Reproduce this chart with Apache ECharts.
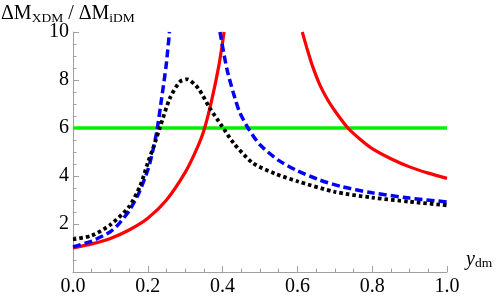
<!DOCTYPE html>
<html>
<head>
<meta charset="utf-8">
<script src="https://cdn.jsdelivr.net/npm/echarts@6/dist/echarts.min.js"></script>
<style>html,body{margin:0;padding:0;background:#fff;}#c{width:498px;height:299px;}</style>
</head>
<body>
<div id="c"></div>
<script>
// x ticks / y ticks
const xTicks = [0, 0.2, 0.4, 0.6, 0.8, 1.0];
const yTicks = [2, 4, 6, 8, 10];

// red solid curve (two branches around pole)
const redLeft = [[0,1.0],[0.05,1.17],[0.1,1.4],[0.15,1.75],[0.2,2.24],[0.25,3.0],[0.3,4.15],[0.33,5.1],[0.35,5.9],[0.37,7.1],[0.39,8.6],[0.404,10]];
const redRight = [[0.613,10],[0.625,9.35],[0.64,8.6],[0.66,7.8],[0.68,7.2],[0.7,6.72],[0.735,6.0],[0.77,5.5],[0.8,5.14],[0.85,4.72],[0.9,4.38],[0.95,4.12],[1.0,3.9]];

// blue dashed curve
const blueLeft = [[0,1.05],[0.05,1.29],[0.1,1.68],[0.125,2.05],[0.15,2.55],[0.175,3.25],[0.2,4.25],[0.212,4.95],[0.224,5.85],[0.237,7.24],[0.249,8.6],[0.258,10]];
const blueRight = [[0.393,10],[0.411,8.49],[0.429,7.45],[0.445,6.68],[0.468,6.0],[0.5,5.3],[0.55,4.65],[0.6,4.22],[0.66,3.83],[0.72,3.55],[0.8,3.3],[0.9,3.08],[1.0,2.92]];

// black dotted curve
const blackCurve = [[0,1.36],[0.05,1.52],[0.1,1.97],[0.15,2.72],[0.18,3.6],[0.2,4.55],[0.215,5.2],[0.233,6.05],[0.259,7.24],[0.286,7.93],[0.305,8.03],[0.335,7.65],[0.366,6.82],[0.396,6.13],[0.43,5.36],[0.48,4.55],[0.54,4.1],[0.6,3.78],[0.7,3.34],[0.8,3.1],[0.9,2.93],[1.0,2.78]];

// green horizontal line
const greenLine = [[0,6],[1,6]];

const FONT = 'Liberation Serif';
const chart = echarts.init(document.getElementById('c'), null, {renderer:'canvas'});
const axisGray = '#a0a0a0';

function lineSeries(data, color, type, width, z) {
  return {
    type: 'line', data: data, smooth: 0.25, showSymbol: false, symbol: 'none',
    lineStyle: {color: color, width: width, type: type, cap: 'butt'},
    z: z, clip: true, animation: false
  };
}

chart.setOption({
  animation: false,
  textStyle: {fontFamily: FONT},
  grid: {left: 73, right: 51, top: 32, bottom: 27, containLabel: false},
  title: {
    left: 1, top: 3, padding: 0,
    text: '{a|ΔM}{s|XDM}{a| / ΔM}{s|iDM}',
    textStyle: {
      fontWeight: 'normal', fontFamily: FONT,
      rich: {
        a: {fontFamily: FONT, fontWeight: 'normal', fontSize: 20, color: '#000', lineHeight: 22},
        s: {fontFamily: FONT, fontWeight: 'normal', fontSize: 13.5, color: '#000', lineHeight: 11, verticalAlign: 'bottom'}
      }
    }
  },
  graphic: [{
    type: 'text', left: 466, top: 250,
    style: {
      text: '{i|y}{s|dm}',
      rich: {
        i: {fontFamily: FONT, fontSize: 20, fontStyle: 'italic', fill: '#000', lineHeight: 20},
        s: {fontFamily: FONT, fontSize: 13.5, fill: '#000', lineHeight: 11, verticalAlign: 'bottom'}
      }
    }
  }],
  xAxis: {
    type: 'value', min: 0, max: 1, interval: 0.2,
    axisLine: {show: true, onZero: false, lineStyle: {color: axisGray, width: 1}},
    axisTick: {show: true, inside: true, length: 6, lineStyle: {color: axisGray}},
    minorTick: {show: true, splitNumber: 4, length: 3.5, lineStyle: {color: axisGray}},
    splitLine: {show: false},
    axisLabel: {
      margin: 5, color: '#000', fontFamily: FONT, fontSize: 20,
      formatter: function (v) { return xTicks.some(t => Math.abs(t - v) < 1e-9) ? v.toFixed(1) : ''; }
    }
  },
  yAxis: {
    type: 'value', min: 0, max: 10, interval: 2,
    axisLine: {show: true, onZero: false, lineStyle: {color: axisGray, width: 1}},
    axisTick: {show: true, inside: true, length: 6, lineStyle: {color: axisGray}},
    minorTick: {show: true, splitNumber: 4, length: 3.5, lineStyle: {color: axisGray}},
    splitLine: {show: false},
    axisLabel: {
      margin: 4, color: '#000', fontFamily: FONT, fontSize: 20,
      formatter: function (v) { return yTicks.indexOf(v) >= 0 ? String(v) : ''; }
    }
  },
  series: [
    lineSeries(greenLine, '#00f000', 'solid', 3.5, 1),
    lineSeries(redLeft, '#ff0000', 'solid', 3.2, 2),
    lineSeries(redRight, '#ff0000', 'solid', 3.2, 2),
    lineSeries(blueLeft, '#0000ff', [8, 4], 3.5, 3),
    lineSeries(blueRight, '#0000ff', [8, 4], 3.5, 3),
    lineSeries(blackCurve, '#000000', [3.5, 3], 3.8, 4)
  ]
});
</script>
</body>
</html>
